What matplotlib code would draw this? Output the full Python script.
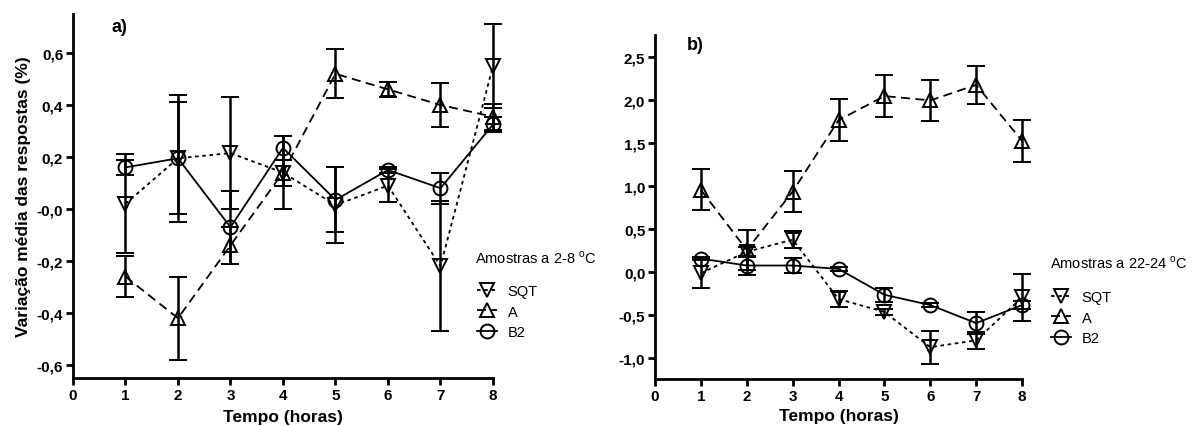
import numpy as np
import matplotlib
matplotlib.use('Agg')
from matplotlib import pyplot as plt
from matplotlib.lines import Line2D

plt.rcParams['font.family'] = 'Liberation Sans'
plt.rcParams['mathtext.fontset'] = 'custom'
plt.rcParams['mathtext.rm'] = 'Liberation Sans'

# ---- data ----
tempo = [1, 2, 3, 4, 5, 6, 7, 8]

# a) samples at 2-8 C
sqt_a = [0.02, 0.195, 0.215, 0.14, 0.015, 0.09, -0.22, 0.55]
sqt_a_err = [0.19, 0.245, 0.215, 0.05, 0.145, 0.065, 0.25, 0.16]
a_a = [-0.26, -0.42, -0.14, 0.14, 0.52, 0.46, 0.40, 0.355]
a_a_err = [0.08, 0.16, 0.07, 0.14, 0.095, 0.03, 0.085, 0.05]
b2_a = [0.16, 0.195, -0.07, 0.235, 0.035, 0.15, 0.08, 0.325]
b2_a_err = [0.03, 0.215, 0.14, 0.045, 0.125, 0.01, 0.06, 0.03]

# b) samples at 22-24 C
sqt_b = [-0.02, 0.23, 0.37, -0.32, -0.47, -0.88, -0.80, -0.30]
sqt_b_err = [0.17, 0.06, 0.10, 0.09, 0.03, 0.19, 0.10, 0.27]
a_b = [0.95, 0.25, 0.93, 1.76, 2.04, 1.99, 2.17, 1.52]
a_b_err = [0.24, 0.23, 0.24, 0.245, 0.245, 0.24, 0.22, 0.245]
b2_b = [0.15, 0.07, 0.07, 0.03, -0.27, -0.39, -0.60, -0.39]
b2_b_err = [0.02, 0.11, 0.09, 0.02, 0.08, 0.02, 0.13, 0.05]

yticks_a = [-0.6, -0.4, -0.2, 0.0, 0.2, 0.4, 0.6]
ylabels_a = ['-0,6', '-0,4', '-0,2', '-0,0', '0,2', '0,4', '0,6']
yticks_b = [-1.0, -0.5, 0.0, 0.5, 1.0, 1.5, 2.0, 2.5]
ylabels_b = ['-1,0', '-0,5', '0,0', '0,5', '1,0', '1,5', '2,0', '2,5']
xticks = [0, 1, 2, 3, 4, 5, 6, 7, 8]

series_names = ['SQT', 'A', 'B2']
markers = ['v', '^', 'o']
styles = [(0, (2, 2)), (0, (5, 3)), 'solid']

W, H = 1194, 427
fig = plt.figure(figsize=(W / 100, H / 100), dpi=100)
axA = fig.add_axes([0.0611, 0.1124, 0.3518, 0.8525])
axB = fig.add_axes([0.5486, 0.110, 0.3074, 0.8056])


def draw_panel(ax, data, yticks, ylabels, ylim, title, letter, letter_xy, title_px, leg_px, xpad):
    for (y, err), mk, ls in zip(data, markers, styles):
        ax.errorbar(tempo, y, yerr=err, marker=mk, markersize=10, fillstyle='none',
                    markeredgewidth=1.4, color='k', linestyle=ls, linewidth=1.3,
                    ecolor='k', elinewidth=1.8, capsize=6.5, capthick=1.8, clip_on=False)
    ax.set_xlim(0, 8)
    ax.set_ylim(*ylim)
    ax.set_xticks(xticks)
    ax.set_xticklabels([str(x) for x in xticks])
    ax.set_yticks(yticks)
    ax.set_yticklabels(ylabels)
    for s in ['top', 'right']:
        ax.spines[s].set_visible(False)
    for s in ['left', 'bottom']:
        ax.spines[s].set_linewidth(2)
    ax.tick_params(axis='both', direction='out', length=5, width=2, labelsize=11, pad=2)
    for lab in ax.get_xticklabels() + ax.get_yticklabels():
        lab.set_fontweight('bold')
    ax.set_xlabel('Tempo (horas)', fontsize=12.5, fontweight='bold', labelpad=xpad)
    fig.text(letter_xy[0] / W, 1 - letter_xy[1] / H, letter, fontsize=13,
             fontweight='bold', va='center', ha='left')
    # legend title and entries
    fig.text(title_px[0] / W, 1 - title_px[1] / H, title, fontsize=10.5,
             va='center', ha='left')
    handles = [Line2D([], [], color='k', marker=mk, markersize=10, fillstyle='none',
                      markeredgewidth=1.4, linestyle=ls, linewidth=1.3)
               for mk, ls in zip(markers, styles)]
    fig.legend(handles, series_names, loc='upper left',
               bbox_to_anchor=(leg_px[0] / W, 1 - leg_px[1] / H), frameon=False,
               fontsize=10.5, handlelength=1.4, handletextpad=0.7,
               labelspacing=0.45, borderpad=0, borderaxespad=0)


draw_panel(axA, [(sqt_a, sqt_a_err), (a_a, a_a_err), (b2_a, b2_a_err)],
           yticks_a, ylabels_a, (-0.65, 0.75), r'Amostras a 2-8 $^{\mathrm{o}}$C', 'a)',
           (111, 28), (475, 258), (477, 285), 5.5)
draw_panel(axB, [(sqt_b, sqt_b_err), (a_b, a_b_err), (b2_b, b2_b_err)],
           yticks_b, ylabels_b, (-1.25, 2.75), r'Amostras a 22-24 $^{\mathrm{o}}$C', 'b)',
           (687, 45), (1050, 263), (1051, 291), 4)

axA.set_ylabel('Variação média das respostas (%)', fontsize=12.5, fontweight='bold', labelpad=4)

fig.savefig('out.png', dpi=100, facecolor='white')
